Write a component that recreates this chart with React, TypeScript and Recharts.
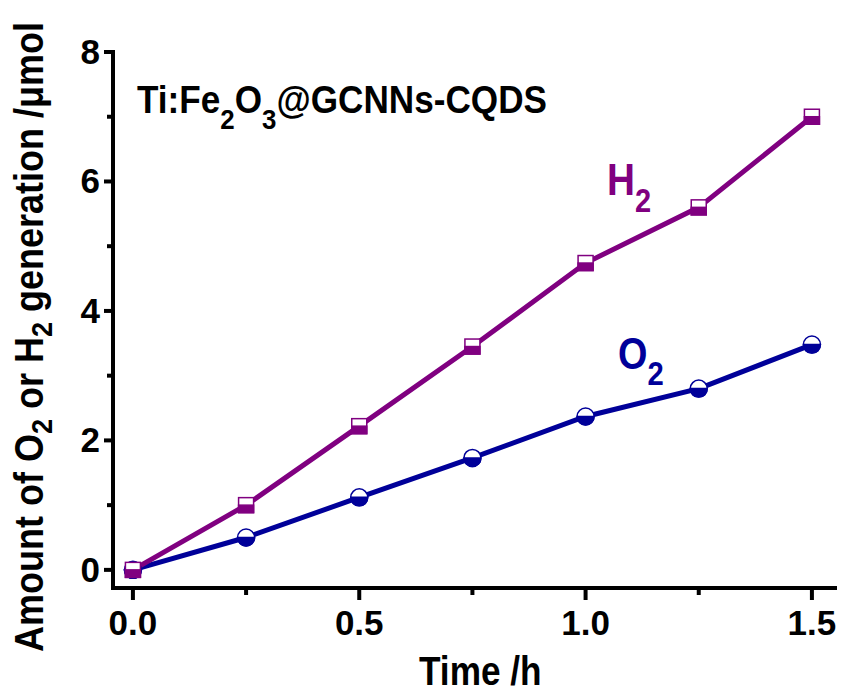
import { Customized, Line, LineChart, XAxis, YAxis } from "recharts";

const timeH = [0, 0.25, 0.5, 0.75, 1.0, 1.25, 1.5];
const h2Values = [0, 1.0, 2.22, 3.45, 4.74, 5.6, 7.0];
const o2Values = [0, 0.5, 1.12, 1.73, 2.37, 2.8, 3.48];
const xTicks = [0, 0.25, 0.5, 0.75, 1.0, 1.25, 1.5];
const xMajorTicks = [0, 0.5, 1.0, 1.5];
const yTicks = [0, 1, 2, 3, 4, 5, 6, 7, 8];
const yMajorTicks = [0, 2, 4, 6, 8];

const data = timeH.map((t, i) => ({ t, h2: h2Values[i], o2: o2Values[i] }));

const FONT = "'Liberation Sans', Arial, sans-serif";
const PURPLE = "#800080";
const BLUE = "#000099";
const frame = { stroke: "#000", strokeWidth: 4, strokeLinecap: "square" as const };

function BottomTick({ x, y, payload }: any) {
  const major = xMajorTicks.includes(payload.value);
  return (
    <g>
      <line x1={x} x2={x} y1={y} y2={y + (major ? 12 : 7)} stroke="#000" strokeWidth={4} />
      {major && (
        <text x={x} y={y + 47} textAnchor="middle" fontFamily={FONT} fontWeight="bold" fontSize={35} fill="#000">
          {payload.value.toFixed(1)}
        </text>
      )}
    </g>
  );
}

function LeftTick({ x, y, payload }: any) {
  const major = yMajorTicks.includes(payload.value);
  return (
    <g>
      <line x1={x - (major ? 9 : 6)} x2={x} y1={y} y2={y} stroke="#000" strokeWidth={4} />
      {major && (
        <text x={x - 13} y={y + 12} textAnchor="end" fontFamily={FONT} fontWeight="bold" fontSize={35} fill="#000">
          {payload.value}
        </text>
      )}
    </g>
  );
}

function TopTick({ x, y }: any) {
  return <line x1={x} x2={x} y1={y} y2={y + 5} stroke="#000" strokeWidth={3} />;
}

function RightTick({ x, y }: any) {
  return <line x1={x - 5} x2={x} y1={y} y2={y} stroke="#000" strokeWidth={3} />;
}

function SquareDot({ cx, cy }: any) {
  const s = 7.5;
  return (
    <g>
      <rect x={cx - s} y={cy - s} width={2 * s} height={2 * s} fill="#fff" stroke={PURPLE} strokeWidth={1.5} />
      <rect x={cx - s} y={cy} width={2 * s} height={s} fill={PURPLE} stroke={PURPLE} strokeWidth={1.5} />
    </g>
  );
}

function CircleDot({ cx, cy }: any) {
  const r = 8.5;
  return (
    <g>
      <circle cx={cx} cy={cy} r={r} fill="#fff" stroke={BLUE} strokeWidth={1.5} />
      <path d={`M${cx - r},${cy} A${r},${r} 0 0 0 ${cx + r},${cy} Z`} fill={BLUE} stroke={BLUE} strokeWidth={1.5} />
    </g>
  );
}

function Squeezed({ x, y, sx, rotate = 0, children }: any) {
  return (
    <g transform={`translate(${x},${y}) rotate(${rotate}) scale(${sx},1)`}>
      <text x={0} y={0} fontFamily={FONT} fontWeight="bold">
        {children}
      </text>
    </g>
  );
}

function Annotations() {
  return (
    <g>
      <Squeezed x={137} y={113} sx={0.925}>
        <tspan fontSize={38}>Ti:Fe</tspan>
        <tspan fontSize={28} dy={16}>2</tspan>
        <tspan fontSize={38} dy={-16}>O</tspan>
        <tspan fontSize={28} dy={16}>3</tspan>
        <tspan fontSize={38} dy={-16}>@GCNNs-CQDS</tspan>
      </Squeezed>
      <Squeezed x={607} y={195} sx={0.88}>
        <tspan fontSize={44} fill={PURPLE}>H</tspan>
        <tspan fontSize={33} fill={PURPLE} dy={17}>2</tspan>
      </Squeezed>
      <Squeezed x={618} y={369} sx={0.86}>
        <tspan fontSize={44} fill={BLUE}>O</tspan>
        <tspan fontSize={34} fill={BLUE} dy={16}>2</tspan>
      </Squeezed>
      <Squeezed x={419} y={685} sx={0.88}>
        <tspan fontSize={40}>Time /h</tspan>
      </Squeezed>
      <Squeezed x={43} y={652} sx={0.9} rotate={-90}>
        <tspan fontSize={40}>Amount of O</tspan>
        <tspan fontSize={30} dy={9}>2</tspan>
        <tspan fontSize={40} dy={-9}> or H</tspan>
        <tspan fontSize={30} dy={9}>2</tspan>
        <tspan fontSize={40} dy={-9}> generation /μmol</tspan>
      </Squeezed>
    </g>
  );
}

export default function App() {
  return (
    <div style={{ position: "absolute", left: 0, top: 0, width: 842, height: 695, background: "#fff" }}>
      <LineChart width={842} height={695} data={data} margin={{ top: 52, right: 7, bottom: 0, left: 0 }}>
        <XAxis
          xAxisId="bottom"
          dataKey="t"
          type="number"
          domain={[-0.044, 1.551]}
          ticks={xTicks}
          interval={0}
          height={107}
          tickSize={0}
          tickMargin={0}
          tickLine={false}
          axisLine={frame}
          tick={BottomTick}
          allowDataOverflow
        />
        <XAxis
          xAxisId="top"
          orientation="top"
          dataKey="t"
          type="number"
          domain={[-0.044, 1.551]}
          ticks={xTicks}
          interval={0}
          height={0}
          tickSize={0}
          tickMargin={0}
          tickLine={false}
          axisLine={frame}
          tick={TopTick}
          allowDataOverflow
        />
        <YAxis
          yAxisId="left"
          type="number"
          domain={[-0.28, 8]}
          ticks={yTicks}
          interval={0}
          width={113}
          tickSize={0}
          tickMargin={0}
          tickLine={false}
          axisLine={frame}
          tick={LeftTick}
          allowDataOverflow
        />
        <YAxis
          yAxisId="right"
          orientation="right"
          type="number"
          domain={[-0.28, 8]}
          ticks={yTicks}
          interval={0}
          width={0}
          tickSize={0}
          tickMargin={0}
          tickLine={false}
          axisLine={frame}
          tick={RightTick}
          allowDataOverflow
        />
        <Line
          xAxisId="bottom"
          yAxisId="left"
          dataKey="o2"
          stroke={BLUE}
          strokeWidth={5}
          dot={CircleDot}
          activeDot={false}
          isAnimationActive={false}
        />
        <Line
          xAxisId="bottom"
          yAxisId="left"
          dataKey="h2"
          stroke={PURPLE}
          strokeWidth={5}
          dot={SquareDot}
          activeDot={false}
          isAnimationActive={false}
        />
        <Customized component={Annotations} />
      </LineChart>
    </div>
  );
}
